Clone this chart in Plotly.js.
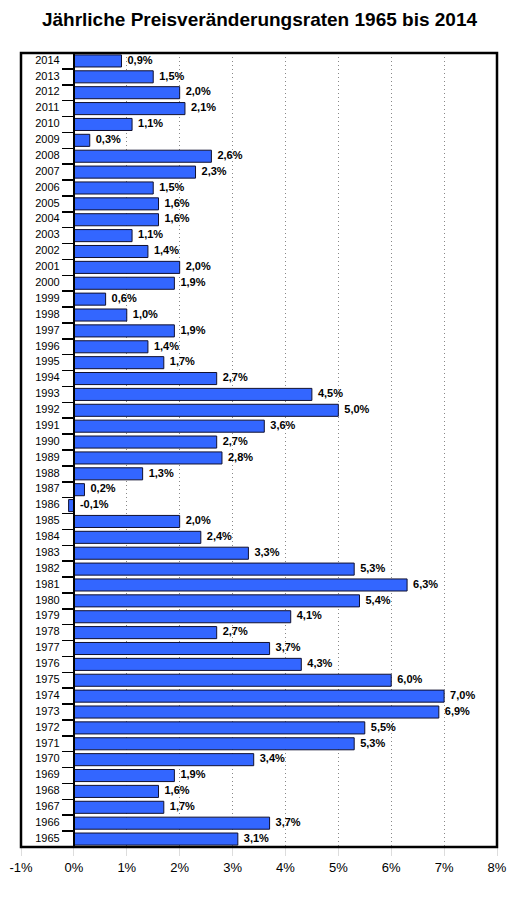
<!DOCTYPE html>
<html>
<head>
<meta charset="utf-8">
<script src="https://cdn.plot.ly/plotly-3.0.1.min.js"></script>
<style>html,body{margin:0;padding:0;background:#fff;}#chart{width:519px;height:900px;}</style>
</head>
<body>
<div id="chart"></div>
<script>
const years = [1965,1966,1967,1968,1969,1970,1971,1972,1973,1974,1975,1976,1977,1978,1979,1980,1981,1982,1983,1984,1985,1986,1987,1988,1989,1990,1991,1992,1993,1994,1995,1996,1997,1998,1999,2000,2001,2002,2003,2004,2005,2006,2007,2008,2009,2010,2011,2012,2013,2014];
const rates = [3.1,3.7,1.7,1.6,1.9,3.4,5.3,5.5,6.9,7.0,6.0,4.3,3.7,2.7,4.1,5.4,6.3,5.3,3.3,2.4,2.0,-0.1,0.2,1.3,2.8,2.7,3.6,5.0,4.5,2.7,1.7,1.4,1.9,1.0,0.6,1.9,2.0,1.4,1.1,1.6,1.6,1.5,2.3,2.6,0.3,1.1,2.1,2.0,1.5,0.9];
const xTickVals = [-1,0,1,2,3,4,5,6,7,8];
const xTickText = ["-1%","0%","1%","2%","3%","4%","5%","6%","7%","8%"];
const titleText = "Jährliche Preisveränderungsraten 1965 bis 2014";

const cats = years.map(String);
const labels = rates.map(v => v.toFixed(1).replace('.', ',') + '%');
const FONT = 'Liberation Sans, Arial, sans-serif';

const bars = {
  type: 'bar', orientation: 'h',
  x: rates, y: cats,
  width: 0.76,
  marker: {color: '#3366ff', line: {color: '#101030', width: 1}},
  hoverinfo: 'none'
};
const valueText = {
  type: 'scatter', mode: 'markers+text',
  x: rates.map(v => Math.max(v, 0)), y: cats,
  text: labels,
  textposition: 'middle right',
  texttemplate: '<b>%{text}</b>',
  marker: {size: 8, color: 'rgba(0,0,0,0)'},
  textfont: {family: FONT, size: 11, color: '#000'},
  hoverinfo: 'none', cliponaxis: false
};
const yearText = {
  type: 'scatter', mode: 'text',
  x: cats.map(() => -0.5), y: cats,
  text: cats,
  textposition: 'middle center',
  textfont: {family: FONT, size: 11, color: '#000'},
  hoverinfo: 'none', cliponaxis: false
};

const layout = {
  width: 519, height: 900,
  margin: {l: 21, r: 22, t: 53, b: 53},
  paper_bgcolor: '#fff', plot_bgcolor: '#fff',
  showlegend: false,
  font: {family: FONT, color: '#000'},
  title: {text: '<b>' + titleText + '</b>', x: 0.5, xanchor: 'center', y: 0.978, yanchor: 'middle',
          font: {size: 19, family: FONT, color: '#000'}},
  xaxis: {
    range: [-1, 8], tickvals: xTickVals, ticktext: xTickText,
    showgrid: true, gridcolor: '#888', griddash: '1px,3px', gridwidth: 1,
    zeroline: false, showline: false,
    ticks: 'outside', ticklen: 8, tickcolor: '#ddd', tickwidth: 1,
    tickfont: {size: 13, color: '#000'}, fixedrange: true
  },
  yaxis: {
    type: 'category', anchor: 'free', position: 1/9,
    showline: true, linecolor: '#000', linewidth: 2,
    ticks: 'outside', tickson: 'boundaries', ticklen: 11, tickcolor: '#000', tickwidth: 1.5,
    showgrid: false, zeroline: false, showticklabels: false,
    range: [-0.5, years.length - 0.5], fixedrange: true
  },
  shapes: [{type: 'rect', xref: 'paper', yref: 'paper', x0: 0, x1: 1, y0: 0, y1: 1,
            line: {color: '#000', width: 2.5}, layer: 'above'}]
};

Plotly.newPlot('chart', [bars, valueText, yearText], layout, {displayModeBar: false, staticPlot: true});
</script>
</body>
</html>
